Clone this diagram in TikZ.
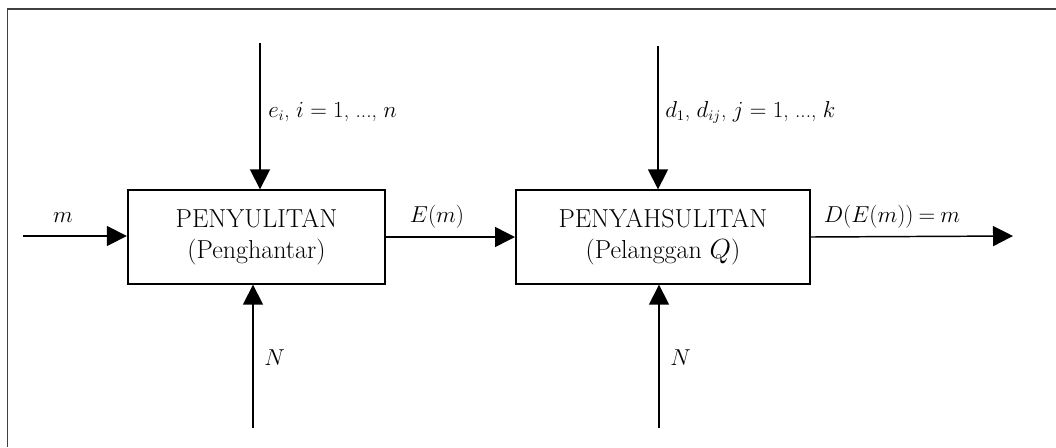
\documentclass[tikz,border=0pt]{standalone}
\usepackage{fontspec}
\usetikzlibrary{arrows.meta}

\begin{document}
\begin{tikzpicture}[x=0.75pt, y=-0.75pt, >={Triangle[length=15pt, width=15pt]}]

% --- Styles ---
\tikzset{
    block/.style={draw=black, line width=1.5pt, minimum height=70pt,
                  align=center, font=\fontsize{19.5}{23.5}\selectfont, inner sep=0pt},
    sig/.style={font=\fontsize{16}{19}\selectfont, inner sep=0pt},
    arrow/.style={->, line width=1.1pt, draw=black}
}

    \useasboundingbox (0,0) rectangle (1056,447);

    % Bingkai (atas dan kiri sahaja)
    \draw[line width=1.2pt, black!75] (7.5,447) -- (7.5,9) -- (1056,9);

    % Blok penyulitan dan penyahsulitan
    \node[block, minimum width=193pt] (enc) at (256.5,237) {PENYULITAN\\(Penghantar)};
    \node[block, minimum width=220.5pt] (dec) at (663,237) {PENYAHSULITAN\\(Pelanggan $Q$)};

    % Hujung bebas
    \coordinate (msg) at (23,236);
    \coordinate (key1) at (260,43);
    \coordinate (noise1) at (253,428);
    \coordinate (key2) at (658,46);
    \coordinate (noise2) at (659,428);
    \coordinate (out) at (1013,236);

    % Anak panah
    \draw[arrow] (msg) -- (msg -| enc.west);
    \draw[arrow] (key1) -- (key1 |- enc.north);
    \draw[arrow] (noise1) -- (noise1 |- enc.south);
    \draw[arrow] (enc.east) -- (dec.west);
    \draw[arrow] (key2) -- (key2 |- dec.north);
    \draw[arrow] (noise2) -- (noise2 |- dec.south);
    \draw[arrow] (dec.east) -- (out);

    % Label isyarat
    \node[sig, anchor=base] (lm) at (63,222) {$m$};
    \node[sig, anchor=base west] (lkey1) at (268,117) {$e_i$, $i = 1$, ..., $n$};
    \node[sig, anchor=base west] (ln1) at (264,365) {$N$};
    \node[sig, anchor=base] (lem) at (437,222) {$E(m)$};
    \node[sig, anchor=base west] (lkey2) at (665,117) {$d_1$, $d_{ij}$, $j = 1$, ..., $k$};
    \node[sig, anchor=base west] (ln2) at (670,365) {$N$};
    \node[sig, anchor=base] (lout) at (892,222) {$D(E(m))\:{=}\:m$};

\end{tikzpicture}
\end{document}
